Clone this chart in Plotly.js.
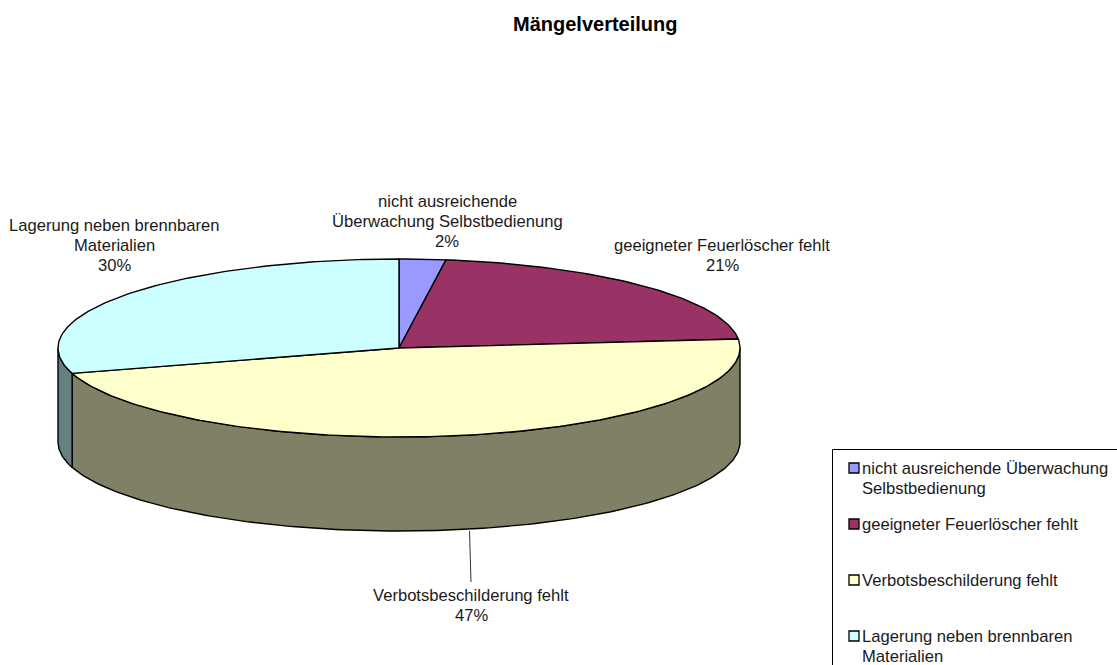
<!DOCTYPE html>
<html><head><meta charset="utf-8">
<script src="https://cdn.plot.ly/plotly-3.0.1.min.js"></script>
<style>html,body{margin:0;padding:0;background:#fff;overflow:hidden}</style>
</head><body><div id="chart" style="width:1117px;height:665px"></div>
<script>
var chartTitle = 'Mängelverteilung';
var categories = ['nicht ausreichende Überwachung Selbstbedienung','geeigneter Feuerlöscher fehlt','Verbotsbeschilderung fehlt','Lagerung neben brennbaren Materialien'];
var values = [2.2, 21.2, 47.0, 29.6];
var topColors = ['#9999FF','#993366','#FFFFCC','#CCFFFF'];
var sideColors = ['#666699','#4D1A33','#808066','#668080'];
var labelLines = [['nicht ausreichende','Überwachung Selbstbedienung'],['geeigneter Feuerlöscher fehlt'],['Verbotsbeschilderung fehlt'],['Lagerung neben brennbaren','Materialien']];
var legendLines = [['nicht ausreichende Überwachung','Selbstbedienung'],['geeigneter Feuerlöscher fehlt'],['Verbotsbeschilderung fehlt'],['Lagerung neben brennbaren','Materialien']];

var W=1117,H=665,cx=399,cy=348,rx=341,ry=89,depth=94;
var font='"Liberation Sans", Arial, sans-serif', ink='#1a1a1a', fs=16.6, gap=20;
var tilt=ry/rx, dz=depth/rx;
function pt(deg,drop){var a=deg*Math.PI/180;return [Math.sin(a),Math.cos(a)*tilt-(drop||0)];}
function arc(a,b,drop){var out=[],n=Math.max(2,Math.ceil(Math.abs(b-a)));for(var i=0;i<=n;i++){out.push(pt(a+(b-a)*i/n,drop));}return out;}
function poly(points,fill,name){return {type:'scatter',mode:'lines',x:points.map(function(p){return p[0];}),y:points.map(function(p){return p[1];}),fill:'toself',fillcolor:fill,line:{color:'#000',width:1.4},hoverinfo:'text',text:name,showlegend:false};}

var total=values.reduce(function(s,v){return s+v;},0), start=0, traces=[], tops=[];
values.forEach(function(v,i){
  var end=start+v/total*360;
  var a=Math.max(start,90), b=Math.min(end,270);
  if(b>a){traces.push(poly(arc(a,b,0).concat(arc(b,a,dz)).concat([pt(a,0)]),sideColors[i],categories[i]));}
  tops.push(poly([[0,0]].concat(arc(start,end,0)).concat([[0,0]]),topColors[i],categories[i]));
  start=end;
});
traces=traces.concat(tops);

function px(x){return x/W;} function py(y){return 1-y/H;}
function txt(s,x,y,anchor,extra){var o={xref:'paper',yref:'paper',x:px(x),y:py(y),text:s,showarrow:false,xanchor:anchor,yanchor:'middle',borderpad:0,font:{family:font,size:fs,color:ink}};for(var k in extra){o[k]=extra[k];}return o;}
var annotations=[];
annotations.push(txt('<b>'+chartTitle+'</b>',595,24,'center',{font:{family:font,size:20,color:'#000'}}));
var labelPos=[[447,201],[722,245],[471,595],[114,225]];
values.forEach(function(v,i){
  var lines=labelLines[i].concat([Math.round(v)+'%']);
  lines.forEach(function(l,j){annotations.push(txt(l,labelPos[i][0],labelPos[i][1]+j*gap,'center'));});
});
var legendY=[468,524,580,636];
var shapes=[{type:'rect',xref:'paper',yref:'paper',x0:px(832.5),x1:px(1130),y0:py(449.5),y1:py(680),line:{color:'#000',width:1},fillcolor:'rgba(255,255,255,0)'},
 {type:'line',xref:'paper',yref:'paper',x0:px(469.5),x1:px(471),y0:py(531),y1:py(582),line:{color:'#333',width:1}}];
categories.forEach(function(c,i){
  shapes.push({type:'rect',xref:'paper',yref:'paper',x0:px(849),x1:px(859),y0:py(legendY[i]-5),y1:py(legendY[i]+5),fillcolor:topColors[i],line:{color:'#000',width:1.3}});
  legendLines[i].forEach(function(l,j){annotations.push(txt(l,861,legendY[i]+j*gap,'left'));});
});

var layout={width:W,height:H,margin:{l:0,r:0,t:0,b:0},paper_bgcolor:'#fff',plot_bgcolor:'#fff',showlegend:false,
 xaxis:{visible:false,range:[-cx/rx,(W-cx)/rx],fixedrange:true},
 yaxis:{visible:false,range:[-(H-cy)/rx,cy/rx],fixedrange:true},
 annotations:annotations,shapes:shapes};
Plotly.newPlot('chart',traces,layout,{displayModeBar:false,staticPlot:true});
</script></body></html>
